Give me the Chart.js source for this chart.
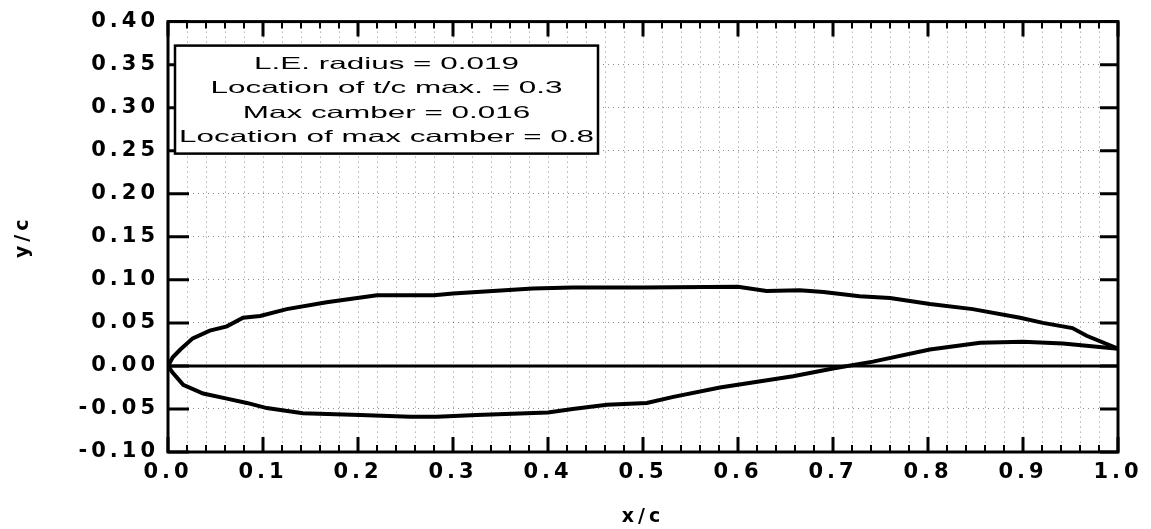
<!DOCTYPE html>
<html>
<head>
<meta charset="utf-8">
<script src="https://cdn.jsdelivr.net/npm/chart.js@4.4.1/dist/chart.umd.min.js"></script>
<style>
html, body { margin: 0; padding: 0; background: #fff; }
</style>
</head>
<body>
<canvas id="airfoilChart" width="1151" height="529"></canvas>
<script>
// airfoil coordinates (x/c, y/c)
const upperX = [0.000, 0.005, 0.013, 0.026, 0.044, 0.062, 0.079, 0.097, 0.125, 0.167, 0.220, 0.280, 0.300, 0.342, 0.384, 0.426, 0.500, 0.600, 0.630, 0.665, 0.690, 0.728, 0.760, 0.802, 0.847, 0.897, 0.921, 0.952, 0.967, 1.000];
const upperY = [0.000, 0.010, 0.019, 0.032, 0.041, 0.046, 0.056, 0.058, 0.066, 0.074, 0.082, 0.082, 0.084, 0.087, 0.090, 0.091, 0.091, 0.092, 0.087, 0.088, 0.086, 0.081, 0.079, 0.072, 0.066, 0.056, 0.050, 0.044, 0.035, 0.020];
const lowerX = [0.000, 0.005, 0.009, 0.016, 0.037, 0.062, 0.083, 0.104, 0.142, 0.202, 0.255, 0.283, 0.325, 0.400, 0.426, 0.462, 0.504, 0.532, 0.581, 0.658, 0.700, 0.742, 0.802, 0.855, 0.900, 0.942, 1.000];
const lowerY = [0.000, -0.008, -0.013, -0.022, -0.032, -0.038, -0.043, -0.049, -0.055, -0.057, -0.059, -0.059, -0.057, -0.054, -0.050, -0.045, -0.043, -0.036, -0.025, -0.012, -0.003, 0.005, 0.019, 0.027, 0.028, 0.026, 0.020];
const chordX = [0.0, 1.0];
const chordY = [0.0, 0.0];

const xLabels = ['0.0', '0.1', '0.2', '0.3', '0.4', '0.5', '0.6', '0.7', '0.8', '0.9', '1.0'];
const yLabels = ['-0.10', '-0.05', '0.00', '0.05', '0.10', '0.15', '0.20', '0.25', '0.30', '0.35', '0.40'];
const infoLines = ['L.E. radius = 0.019', 'Location of t/c max. = 0.3', 'Max camber = 0.016', 'Location of max camber = 0.8'];

const xMin = 0, xMax = 1, xStep = 0.02;
const yMin = -0.1, yMax = 0.4, yStep = 0.05;

function toPoints(xs, ys) {
    return xs.map((x, i) => ({ x: x, y: ys[i] }));
}

// inward tick marks, frame and the parameter box
const frameTicks = {
    id: 'frameTicks',
    beforeLayout(chart) { chart.ctx.letterSpacing = '4px'; },
    beforeDraw(chart) { chart.ctx.letterSpacing = '4px'; },
    afterDraw(chart) {
        const ctx = chart.ctx;
        const a = chart.chartArea;
        const sx = chart.scales.x, sy = chart.scales.y;
        ctx.save();
        ctx.letterSpacing = '0px';
        ctx.strokeStyle = '#000';
        sx.ticks.forEach(t => {
            const px = sx.getPixelForValue(t.value);
            const major = Math.round(t.value * 50) % 5 === 0;
            const len = major ? 15 : 7;
            ctx.lineWidth = major ? 3 : 2;
            ctx.beginPath();
            ctx.moveTo(px, a.bottom); ctx.lineTo(px, a.bottom - len);
            ctx.moveTo(px, a.top); ctx.lineTo(px, a.top + len);
            ctx.stroke();
        });
        sy.ticks.forEach(t => {
            const py = sy.getPixelForValue(t.value);
            ctx.lineWidth = 3;
            ctx.beginPath();
            ctx.moveTo(a.left, py); ctx.lineTo(a.left + 21, py);
            ctx.moveTo(a.right, py); ctx.lineTo(a.right - 18, py);
            ctx.stroke();
        });
        ctx.lineWidth = 3;
        ctx.strokeRect(a.left, a.top, a.right - a.left, a.bottom - a.top);

        // parameter box, text is wide in the original so stretch it to fill
        const bx = a.left + 7, by = a.top + 24, bw = 423, bh = 108;
        ctx.fillStyle = '#fff';
        ctx.fillRect(bx, by, bw, bh);
        ctx.lineWidth = 2.5;
        ctx.strokeRect(bx, by, bw, bh);
        ctx.fillStyle = '#000';
        ctx.font = '16.5px "Liberation Sans", Arial, sans-serif';
        ctx.textAlign = 'center';
        ctx.textBaseline = 'alphabetic';
        const widest = Math.max(...infoLines.map(l => ctx.measureText(l).width));
        const k = (bw - 8) / widest;
        infoLines.forEach((line, i) => {
            ctx.save();
            ctx.translate(bx + bw / 2, by + 23 + i * 24.5);
            ctx.scale(k, 1);
            ctx.fillText(line, 0, 0);
            ctx.restore();
        });
        ctx.restore();
    }
};

const ctx = document.getElementById('airfoilChart').getContext('2d');
new Chart(ctx, {
    type: 'scatter',
    data: {
        datasets: [
            { label: 'upper', data: toPoints(upperX, upperY), showLine: true, borderColor: '#000', borderWidth: 4, pointRadius: 0, tension: 0 },
            { label: 'lower', data: toPoints(lowerX, lowerY), showLine: true, borderColor: '#000', borderWidth: 4, pointRadius: 0, tension: 0 },
            { label: 'chord', data: toPoints(chordX, chordY), showLine: true, borderColor: '#000', borderWidth: 3, pointRadius: 0, tension: 0 }
        ]
    },
    options: {
        responsive: false,
        animation: false,
        events: [],
        layout: { padding: { top: 21, right: 33, left: 0, bottom: 0 } },
        scales: {
            x: {
                type: 'linear',
                min: xMin,
                max: xMax,
                afterFit: s => { s.height = 77; },
                ticks: {
                    stepSize: xStep,
                    autoSkip: false,
                    maxRotation: 0,
                    padding: 8,
                    color: '#000',
                    font: { family: '"DejaVu Sans"', size: 21, weight: 'bold' },
                    callback: v => {
                        const k = Math.round(v * 50);
                        return k % 5 === 0 ? xLabels[k / 5] : '';
                    }
                },
                grid: { color: 'rgba(0,0,0,0.45)', lineWidth: 1, drawTicks: false },
                border: { display: false, dash: [1, 4] },
                title: {
                    display: true,
                    text: 'x/c',
                    color: '#000',
                    font: { family: '"DejaVu Sans"', size: 19, weight: 'bold' },
                    padding: { top: 0, bottom: 1 }
                }
            },
            y: {
                type: 'linear',
                min: yMin,
                max: yMax,
                afterFit: s => { s.width = 168; },
                ticks: {
                    stepSize: yStep,
                    padding: 9,
                    color: '#000',
                    font: { family: '"DejaVu Sans"', size: 21, weight: 'bold' },
                    callback: v => yLabels[Math.round((v - yMin) / yStep)]
                },
                grid: { color: 'rgba(0,0,0,0.45)', lineWidth: 1, drawTicks: false },
                border: { display: false, dash: [1, 4] },
                title: {
                    display: true,
                    text: 'y/c',
                    color: '#000',
                    font: { family: '"DejaVu Sans"', size: 19, weight: 'bold' },
                    padding: { top: 12, bottom: 0 }
                }
            }
        },
        plugins: {
            legend: { display: false },
            tooltip: { enabled: false }
        }
    },
    plugins: [frameTicks]
});
</script>
</body>
</html>
